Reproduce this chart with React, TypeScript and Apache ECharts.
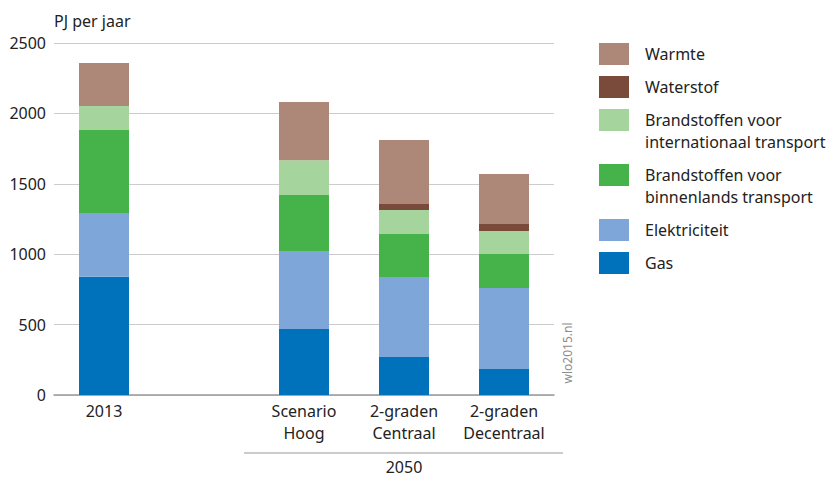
import React, { useEffect, useRef } from "react";
import * as echarts from "echarts";

// Energy demand per carrier, PJ per year
const categories = ["2013", "", "Scenario\nHoog", "2-graden\nCentraal", "2-graden\nDecentraal"];
const gas = [840, null, 469, 270, 185];
const elektriciteit = [448, null, 554, 568, 575];
const binnenlands = [594, null, 397, 305, 241];
const internationaal = [170, null, 247, 171, 164];
const waterstof = [0, null, 0, 43, 49];
const warmte = [306, null, 414, 454, 356];

const seriesNames = [
  "Gas",
  "Elektriciteit",
  "Brandstoffen voor\nbinnenlands transport",
  "Brandstoffen voor\ninternationaal transport",
  "Waterstof",
  "Warmte",
];
const seriesValues = [gas, elektriciteit, binnenlands, internationaal, waterstof, warmte];
const seriesColors = ["#0071bb", "#7ea6d8", "#45b34a", "#a5d59d", "#7a4b3a", "#ad8878"];

const yTicks = { min: 0, max: 2500, interval: 500 };
const groupLabel = "2050";
const watermark = "wlo2015.nl";

const FONT = "Noto Sans";
const TEXT = "#222222";

export default function App() {
  const ref = useRef<HTMLDivElement>(null);

  useEffect(() => {
    if (!ref.current) return;
    const chart = echarts.init(ref.current, undefined, { renderer: "svg" });

    const series = seriesNames.map((name, i) => ({
      name,
      type: "bar" as const,
      stack: "total",
      barWidth: 50,
      data: seriesValues[i],
      itemStyle: { color: seriesColors[i] },
    }));

    chart.setOption({
      animation: false,
      textStyle: { fontFamily: FONT },
      grid: { left: 54, right: 275, top: 43, bottom: 84, containLabel: false },
      xAxis: {
        type: "category",
        data: categories,
        axisTick: { show: false },
        axisLine: { lineStyle: { color: "#9a9a9a", width: 1.5 } },
        axisLabel: {
          color: TEXT,
          fontSize: 16,
          lineHeight: 22,
          margin: 5,
          fontFamily: FONT,
          interval: 0,
        },
      },
      yAxis: {
        type: "value",
        min: yTicks.min,
        max: yTicks.max,
        interval: yTicks.interval,
        name: "PJ per jaar",
        nameLocation: "end",
        nameGap: 14,
        nameTextStyle: { color: TEXT, fontSize: 16, align: "left", fontFamily: FONT },
        axisLine: { show: false },
        axisTick: { show: false },
        axisLabel: {
          color: TEXT,
          fontSize: 16,
          margin: 8,
          fontFamily: FONT,
          formatter: (v: number) => String(v),
        },
        splitLine: { lineStyle: { color: "#cccccc", width: 1.2 } },
      },
      series,
    });

    // Legend drawn top to bottom from Warmte down to Gas; two-line labels take two rows
    const legendItems: any[] = [];
    let y = 43;
    for (let i = seriesNames.length - 1; i >= 0; i--) {
      const lines = seriesNames[i].split("\n").length;
      legendItems.push({
        type: "rect",
        shape: { x: 599, y, width: 30, height: 22 },
        style: { fill: seriesColors[i] },
      });
      legendItems.push({
        type: "text",
        style: {
          x: 645,
          y: y + 11,
          text: seriesNames[i],
          fill: TEXT,
          font: `16px "${FONT}"`,
          lineHeight: 22,
          verticalAlign: "middle",
        },
        y: (lines - 1) * 11,
      });
      y += lines * 22 + 11;
    }

    // Bracket line and label under the 2050 scenarios
    const p2 = chart.convertToPixel({ xAxisIndex: 0 }, 2) as number;
    const p4 = chart.convertToPixel({ xAxisIndex: 0 }, 4) as number;
    const p3 = chart.convertToPixel({ xAxisIndex: 0 }, 3) as number;
    const y0 = chart.convertToPixel({ yAxisIndex: 0 }, 0) as number;

    chart.setOption({
      graphic: [
        ...legendItems,
        {
          type: "line",
          shape: { x1: p2 - 60, y1: y0 + 58, x2: p4 + 59, y2: y0 + 58 },
          style: { stroke: "#9a9a9a", lineWidth: 1.2 },
        },
        {
          type: "text",
          style: {
            x: p3,
            y: y0 + 72,
            text: groupLabel,
            fill: TEXT,
            font: `16px "${FONT}"`,
            align: "center",
            verticalAlign: "middle",
          },
        },
        {
          type: "text",
          x: 567,
          y: y0 - 42,
          rotation: Math.PI / 2,
          style: {
            x: 0,
            y: 0,
            text: watermark,
            fill: "#8c8c8c",
            font: `12px "${FONT}"`,
            align: "center",
            verticalAlign: "middle",
          },
        },
      ],
    });

    return () => chart.dispose();
  }, []);

  return (
    <div
      ref={ref}
      style={{ position: "absolute", left: 0, top: 0, width: 829, height: 479 }}
    />
  );
}
